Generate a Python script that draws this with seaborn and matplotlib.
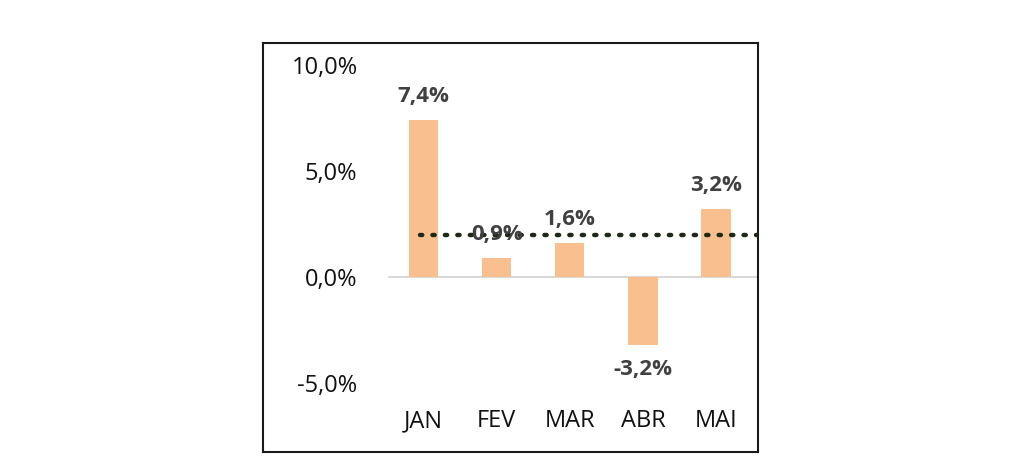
import pandas as pd
import numpy as np
import matplotlib
matplotlib.use('Agg')
import matplotlib.pyplot as plt
import seaborn as sns

# data
meses = ['JAN', 'FEV', 'MAR', 'ABR', 'MAI']
variacao = [7.4, 0.9, 1.6, -3.2, 3.2]
yticks = [-5.0, 0.0, 5.0, 10.0]

df = pd.DataFrame({'mes': meses, 'var': variacao})
media = np.mean(variacao)

sns.set_theme(style='white')
plt.rcParams['font.family'] = ['Open Sans', 'DejaVu Sans']

fig = plt.figure(figsize=(10.24, 4.7), dpi=100)
ax = fig.add_axes([263 / 1024, 1 - 452 / 470, (758 - 263) / 1024, (452 - 43) / 470])

sns.barplot(data=df, x='mes', y='var', color='#F9BF8F', saturation=1,
            width=0.4, linewidth=0, ax=ax, zorder=2)

# zero line and average (dotted)
ax.plot([-0.48, 4.6], [0, 0], color='#d9d9d9', lw=1.5, zorder=1)
ax.plot([-0.05, 4.6], [media, media], color='#1e2a17', lw=3.2,
        linestyle=(0, (0.5, 2.3)), dash_capstyle='round', zorder=3)

# value labels
for i, v in enumerate(variacao):
    txt = f'{v:.1f}%'.replace('.', ',')
    if v >= 0:
        ax.text(i, v + 0.62, txt, ha='center', va='bottom', fontsize=16,
                fontweight='bold', color='#404040', zorder=4)
    else:
        ax.text(i, v - 0.65, txt, ha='center', va='top', fontsize=16,
                fontweight='bold', color='#404040', zorder=4)

ax.set_xlim(-2.2, 4.575)
ax.set_ylim(-8.25, 11.04)
ax.set_yticks(yticks)
ax.set_yticklabels([f'{t:.1f}%'.replace('.', ',') for t in yticks])
ax.tick_params(axis='y', length=0, pad=-68, labelsize=17, labelcolor='#111111')
for lab in ax.get_yticklabels():
    lab.set_horizontalalignment('right')
ax.tick_params(axis='x', length=0, pad=-31, labelsize=17, labelcolor='#111111')
ax.set_xlabel('')
ax.set_ylabel('')

for s in ax.spines.values():
    s.set_visible(True)
    s.set_color('#1a1a1a')
    s.set_linewidth(1.5)

fig.savefig('out.png', dpi=100)
